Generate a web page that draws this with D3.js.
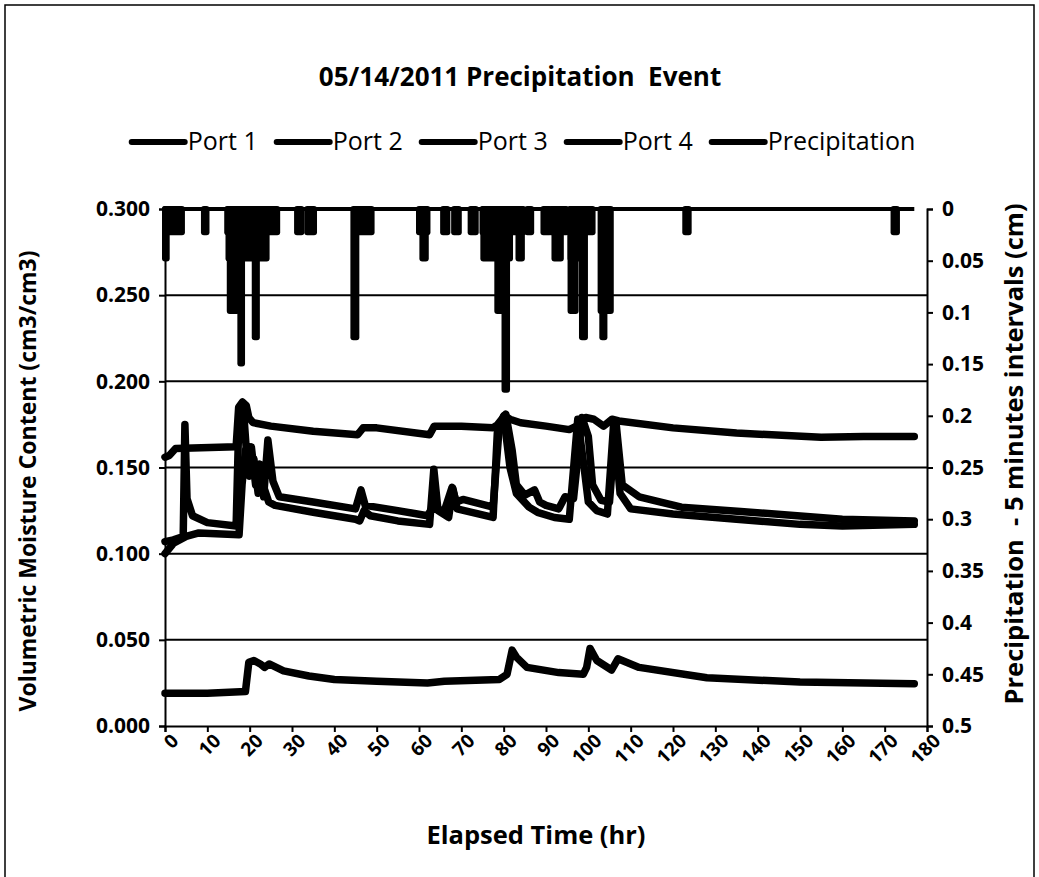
<!DOCTYPE html>
<html>
<head>
<meta charset="utf-8">
<script src="https://cdn.jsdelivr.net/npm/d3@7/dist/d3.min.js"></script>
<style>
  body { margin: 0; background: #fff; }
  text { font-family: "Open Sans", Lato, sans-serif; fill: #000; white-space: pre; }
</style>
</head>
<body>
<div id="chart"></div>
<script>
// svg params
var svgWidth = 1039;
var svgHeight = 877;
var margin = { top: 209, right: 112, bottom: 151, left: 165 };
var chartWidth = svgWidth - margin.left - margin.right;
var chartHeight = svgHeight - margin.top - margin.bottom;

// data: [elapsed hr, volumetric moisture]
var port1 = [[0,0.156],[1,0.157],[2.5,0.161],[16.8,0.162],[17.4,0.185],[18.3,0.188],[19.2,0.186],[19.8,0.179],[20.8,0.176],[25,0.174],[35,0.171],[45.5,0.169],[46.8,0.173],[50,0.173],[62.5,0.169],[63.6,0.174],[70,0.174],[77.5,0.173],[78.6,0.175],[80.2,0.180],[81.5,0.178],[84,0.176],[90,0.174],[95.5,0.172],[97.2,0.174],[99.4,0.179],[101.3,0.178],[103.6,0.174],[105.6,0.178],[107.2,0.177],[120,0.173],[135,0.170],[155,0.1675],[165,0.168],[177,0.168]];
var port2 = [[0,0.107],[2,0.108],[4.3,0.110],[4.7,0.175],[5.2,0.132],[6.5,0.122],[10,0.118],[16.8,0.116],[17.5,0.183],[18.5,0.185],[19.5,0.150],[20.4,0.162],[21.4,0.140],[22.4,0.152],[23.3,0.133],[24.3,0.166],[25.5,0.142],[27,0.133],[35,0.130],[45,0.126],[46.3,0.137],[47.3,0.128],[55,0.125],[62,0.122],[63,0.126],[66,0.125],[67.8,0.1385],[68.8,0.130],[70.4,0.1315],[77.5,0.127],[79,0.175],[80.5,0.181],[82,0.160],[83,0.140],[85,0.134],[87.3,0.137],[88.5,0.130],[90,0.128],[93,0.126],[94.5,0.133],[96.5,0.132],[98.5,0.179],[100,0.168],[101,0.140],[103,0.131],[105,0.130],[106.5,0.177],[108,0.140],[112,0.133],[122,0.127],[136,0.1245],[160,0.120],[177,0.119]];
var port3 = [[0,0.100],[2,0.106],[5,0.110],[8,0.112],[17.5,0.111],[18.2,0.140],[19,0.160],[20,0.145],[21,0.155],[22,0.135],[23,0.141],[24.5,0.130],[26,0.128],[35,0.124],[45,0.120],[46,0.119],[47,0.125],[48.5,0.122],[55,0.119],[62.5,0.117],[63.5,0.149],[64.5,0.125],[67,0.121],[68,0.138],[69,0.126],[77.5,0.121],[78.5,0.170],[80,0.180],[81.5,0.150],[83,0.135],[86,0.127],[88,0.124],[92,0.121],[95.5,0.120],[97.5,0.178],[99,0.150],[100,0.130],[102,0.125],[104.5,0.123],[106,0.176],[107.5,0.135],[110,0.126],[120,0.123],[135,0.120],[150,0.117],[160,0.116],[177,0.117]];
var port4 = [[0,0.019],[10,0.019],[19,0.020],[19.8,0.037],[21,0.038],[22.5,0.036],[23.5,0.034],[24.6,0.036],[28,0.032],[34,0.029],[40,0.027],[50,0.026],[62,0.025],[66,0.026],[79,0.027],[80.8,0.030],[82,0.044],[83,0.040],[85.5,0.034],[93,0.031],[98.8,0.030],[99.6,0.034],[100.4,0.045],[102,0.038],[105.5,0.0325],[107,0.039],[112,0.034],[128,0.028],[150,0.0255],[177,0.0245]];

// precipitation periods: start hr, end hr, depth per 5 min (cm)
var precipStart = [0,0,9.2,14.7,15,15.3,17.8,21.2,31.2,33.6,44.5,45.2,60,60.8,65.7,68.3,72.2,75,75.2,78.5,80.2,83.5,85.6,89.4,91.2,92,95.8,95.8,95.8,98.5,102.9,103.3,122.9,172.1];
var precipEnd   = [0.4,4,9.8,26.5,24,17,18.2,21.7,32.2,35.2,45.2,48.8,62,61.6,66.7,69.4,73.4,84.6,81.5,80,80.8,84.3,86.5,90.8,94.8,93.5,101,99,97,99.2,105.3,103.8,123.7,172.9];
var precipCm    = [0.0508,0.0254,0.0254,0.0254,0.0508,0.1016,0.1524,0.127,0.0254,0.0254,0.127,0.0254,0.0254,0.0508,0.0254,0.0254,0.0254,0.0254,0.0508,0.1016,0.1778,0.0508,0.0254,0.0254,0.0254,0.0508,0.0254,0.0508,0.1016,0.127,0.1016,0.127,0.0254,0.0254];

var leftTicks = [0, 0.05, 0.1, 0.15, 0.2, 0.25, 0.3];
var rightTicks = [0, 0.05, 0.1, 0.15, 0.2, 0.25, 0.3, 0.35, 0.4, 0.45, 0.5];
var xTicks = [0,10,20,30,40,50,60,70,80,90,100,110,120,130,140,150,160,170,180];
var legendLabels = ["Port 1", "Port 2", "Port 3", "Port 4", "Precipitation"];

var svg = d3.select("#chart").append("svg")
  .attr("width", svgWidth)
  .attr("height", svgHeight);

// outer border
svg.append("rect")
  .attr("x", 5).attr("y", 5)
  .attr("width", 1029).attr("height", 880)
  .attr("fill", "none").attr("stroke", "#000").attr("stroke-width", 1.5);

var chartGroup = svg.append("g")
  .attr("transform", `translate(${margin.left}, ${margin.top})`);

var xScale = d3.scaleLinear().domain([0, 180]).range([0, chartWidth]);
var yLeft = d3.scaleLinear().domain([0, 0.3]).range([chartHeight, 0]);
var yRight = d3.scaleLinear().domain([0, 0.5]).range([0, chartHeight]);

// gridlines
chartGroup.selectAll(".grid")
  .data(leftTicks.slice(1, 6))
  .enter().append("line")
  .attr("x1", 0).attr("x2", chartWidth)
  .attr("y1", d => yLeft(d)).attr("y2", d => yLeft(d))
  .attr("stroke", "#000").attr("stroke-width", 2);

// precipitation hanging from the top
chartGroup.append("line")
  .attr("x1", xScale(0)).attr("x2", xScale(177))
  .attr("y1", yRight(0)).attr("y2", yRight(0))
  .attr("stroke", "#000").attr("stroke-width", 4);

chartGroup.selectAll(".rain")
  .data(precipCm)
  .enter().append("rect")
  .attr("class", "rain")
  .attr("x", (d, i) => xScale(precipStart[i]) - 3)
  .attr("width", (d, i) => xScale(precipEnd[i]) - xScale(precipStart[i]) + 6)
  .attr("y", -3)
  .attr("height", d => yRight(d) + 3)
  .attr("rx", 3)
  .attr("fill", "#000");

// moisture lines
var line = d3.line().x(d => xScale(d[0])).y(d => yLeft(d[1]));
[port1, port2, port3, port4].forEach(s => {
  chartGroup.append("path")
    .attr("d", line(s))
    .attr("fill", "none")
    .attr("stroke", "#000")
    .attr("stroke-width", 7.5)
    .attr("stroke-linejoin", "round")
    .attr("stroke-linecap", "round");
});

// axes
var bottomAxis = d3.axisBottom(xScale).tickValues(xTicks).tickSize(6).tickFormat(d3.format("d"));
var leftAxis = d3.axisLeft(yLeft).tickValues(leftTicks).tickSize(6).tickPadding(9).tickFormat(d3.format(".3f"));
var rightAxis = d3.axisRight(yRight).tickValues(rightTicks).tickSize(6).tickPadding(9).tickFormat(d => d3.format("")(+d.toFixed(2)));

var gx = chartGroup.append("g").attr("transform", `translate(0, ${chartHeight})`).call(bottomAxis);
var gl = chartGroup.append("g").call(leftAxis);
var gr = chartGroup.append("g").attr("transform", `translate(${chartWidth}, 0)`).call(rightAxis);

[gx, gl, gr].forEach(g => {
  g.select(".domain").attr("stroke", "#000").attr("stroke-width", 2);
  g.selectAll(".tick line").attr("stroke", "#000").attr("stroke-width", 2);
  g.selectAll("text").attr("font-size", "21px").attr("font-weight", "bold").attr("fill", "#000");
});

gx.selectAll("text")
  .attr("font-size", "19px")
  .attr("text-anchor", "end")
  .attr("dy", "0.35em")
  .attr("transform", "translate(3, 5) rotate(-45)");

// titles
svg.append("text")
  .attr("x", 520).attr("y", 86)
  .attr("text-anchor", "middle")
  .attr("font-size", "26px").attr("font-weight", "bold")
  .text("05/14/2011 Precipitation  Event");

svg.append("text")
  .attr("transform", "translate(36, 481) rotate(-90)")
  .attr("text-anchor", "middle")
  .attr("font-size", "23px").attr("font-weight", "bold")
  .text("Volumetric Moisture Content (cm3/cm3)");

svg.append("text")
  .attr("transform", "translate(1023, 454) rotate(-90)")
  .attr("text-anchor", "middle")
  .attr("font-size", "25.5px").attr("font-weight", "bold")
  .text("Precipitation  - 5 minutes intervals (cm)");

svg.append("text")
  .attr("x", 536).attr("y", 844)
  .attr("text-anchor", "middle")
  .attr("font-size", "25.5px").attr("font-weight", "bold")
  .text("Elapsed Time (hr)");

// legend
var legend = svg.append("g");
var lx = 0;
legendLabels.forEach(label => {
  legend.append("line")
    .attr("x1", lx + 3).attr("x2", lx + 56)
    .attr("y1", 142).attr("y2", 142)
    .attr("stroke", "#000").attr("stroke-width", 6)
    .attr("stroke-linecap", "round");
  var t = legend.append("text")
    .attr("x", lx + 59).attr("y", 150)
    .attr("font-size", "25px")
    .text(label);
  lx = lx + 59 + t.node().getComputedTextLength() + 16;
});
legend.attr("transform", `translate(${522 - (lx - 16) / 2}, 0)`);
</script>
</body>
</html>
